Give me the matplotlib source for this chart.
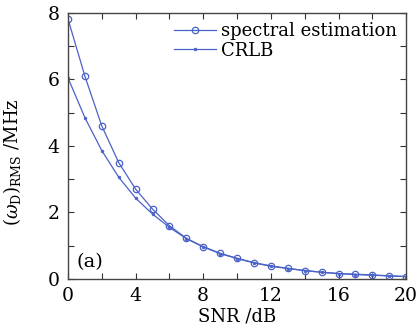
import matplotlib
matplotlib.use("Agg")
import matplotlib.pyplot as plt

snr = list(range(0, 21))
spectral = [7.82, 6.1, 4.6, 3.5, 2.7, 2.1, 1.6, 1.22, 0.97, 0.77, 0.62, 0.49, 0.39, 0.32, 0.25, 0.2, 0.16, 0.14, 0.12, 0.09, 0.07]
crlb = [6.05, 4.85, 3.86, 3.06, 2.43, 1.95, 1.55, 1.21, 0.96, 0.76, 0.61, 0.48, 0.38, 0.31, 0.25, 0.2, 0.16, 0.13, 0.11, 0.09, 0.07]
xticks = [0, 4, 8, 12, 16, 20]
yticks = [0, 2, 4, 6, 8]

plt.rcParams['font.family'] = ['DejaVu Serif']
plt.rcParams['mathtext.fontset'] = 'dejavuserif'

fig = plt.figure(figsize=(4.17, 3.32), dpi=100)
ax = fig.add_axes([0.163, 0.160, 0.811, 0.801])
color = '#4a62c8'
ax.plot(snr, spectral, '-o', color=color, lw=0.9, ms=4.6, mfc='none', mew=0.9, label='spectral estimation')
ax.plot(snr, crlb, '-o', color=color, lw=0.9, ms=2.0, mew=0.5, label='CRLB')
ax.set_xlim(0, 20)
ax.set_ylim(0, 8)
ax.set_xticks(xticks)
ax.set_yticks(yticks)
ax.set_xticks(range(0, 21, 2), minor=True)
ax.set_yticks(range(0, 9, 1), minor=True)
ax.tick_params(which='both', direction='in', top=True, right=True, labelsize=13.5, length=4, width=0.8, color='#333333')
ax.tick_params(axis='y', which='major', pad=6)
ax.tick_params(axis='x', which='major', pad=6)
for s in ax.spines.values():
    s.set_color('#444444')
    s.set_linewidth(1.0)
ax.set_xlabel('SNR /dB', fontsize=13, labelpad=2)
ax.set_ylabel(r'$(\omega_\mathrm{D})_\mathrm{RMS}$ /MHz', fontsize=13)
ax.yaxis.set_label_coords(-0.133, 0.44)
ax.legend(loc='upper right', frameon=False, fontsize=13, handlelength=2.3, handletextpad=0.3,
          borderaxespad=0.1, labelspacing=0.1)
ax.text(0.5, 0.35, '(a)', fontsize=14)
fig.savefig('out.png', dpi=100)
